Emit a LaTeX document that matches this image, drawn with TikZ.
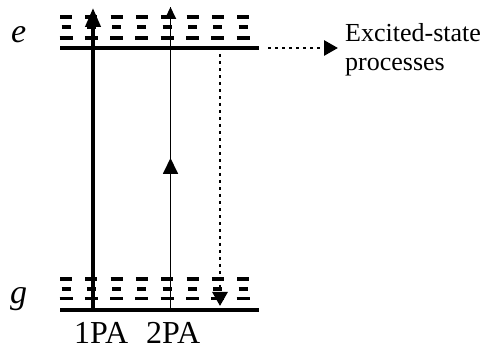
\documentclass[tikz,border=0pt]{standalone}
\usepackage{fontspec}
\setmainfont{Liberation Serif}
\usetikzlibrary{arrows.meta}
\begin{document}
\begin{tikzpicture}[x=1pt,y=-1pt,
  level/.style={line width=3.6pt},
  sublevel/.style={line width=3.2pt},
  pump/.style={line width=4pt,-{Triangle[width=15pt,length=19pt]}},
  twophoton/.style={line width=1.8pt},
  tiphead/.style={-{Triangle[width=11pt,length=12pt]}},
  midhead/.style={-{Triangle[width=15pt,length=16pt]}},
  relax/.style={line width=2.8pt,dash pattern=on 2.8pt off 4.2pt,-{Triangle[width=15pt,length=14pt]}},
  lbl/.style={inner sep=0pt,anchor=base west},
]
\useasboundingbox (0,0) rectangle (488,350);

% vibrational sublevels above each electronic level
\foreach \c in {66,91.3,116.6,141.9,167.2,192.5,217.8,243.1}{
  \draw[sublevel] (\c-6,17) -- (\c+6,17);
  \draw[sublevel] (\c-4.5,27) -- (\c+4.5,27);
  \draw[sublevel] (\c-6.5,38) -- (\c+6.5,38);
  \draw[sublevel] (\c-6,279) -- (\c+6,279);
  \draw[sublevel] (\c-4.5,289) -- (\c+4.5,289);
  \draw[sublevel] (\c-6.5,298.5) -- (\c+6.5,298.5);
}

% electronic levels
\coordinate (eL) at (60,48);
\coordinate (eR) at (259,48);
\coordinate (gL) at (60,310);
\coordinate (gR) at (259,310);
\draw[level] (eL) -- (eR);
\draw[level] (gL) -- (gR);

% one-photon absorption
\coordinate (a1) at (93,310);
\coordinate (a1top) at (93,8);
\draw[pump] (a1) -- (a1top);

% two-photon absorption (two stacked photons)
\coordinate (a2) at (170.5,310);
\coordinate (a2mid) at (170.5,158);
\coordinate (a2top) at (170.5,7);
\draw[twophoton] (a2) -- (a2top);
\draw[twophoton,midhead] (a2) -- (a2mid);
\draw[twophoton,tiphead] (a2mid) -- (a2top);

% relaxation back to ground state
\coordinate (r1) at (220,54);
\coordinate (r2) at (220,306);
\draw[relax] (r1) -- (r2);

% excited-state channel
\coordinate (x1) at (268,48);
\coordinate (x2) at (338,48);
\draw[relax] (x1) -- (x2);

% labels
\node[lbl,font=\fontsize{34}{34}\selectfont\itshape] (elab) at (11,43) {e};
\node[lbl,font=\fontsize{34}{34}\selectfont\itshape] (glab) at (10,303) {g};
\node[lbl,font=\fontsize{26}{26}\selectfont] (exc) at (345,42) {Excited-state};
\node[lbl,font=\fontsize{26}{26}\selectfont] (proc) at (345,71) {processes};
\node[lbl,font=\fontsize{32}{32}\selectfont] (one) at (74,344) {1PA};
\node[lbl,font=\fontsize{32}{32}\selectfont] (two) at (146,344) {2PA};
\end{tikzpicture}
\end{document}
